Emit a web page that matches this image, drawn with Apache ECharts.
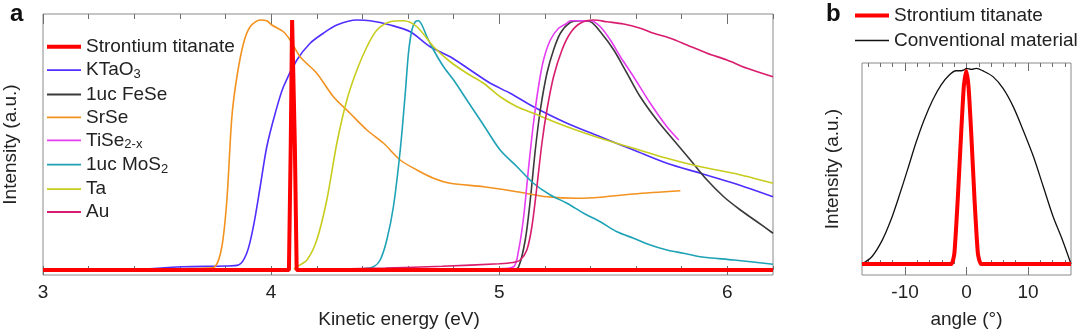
<!DOCTYPE html>
<html>
<head>
<meta charset="utf-8">
<script src="https://cdn.jsdelivr.net/npm/echarts@6/dist/echarts.min.js"></script>
<style>html,body{margin:0;padding:0;background:#fff}#c{width:1080px;height:332px}</style>
</head>
<body>
<div id="c"></div>
<script>
// ---------- DATA (panel a: [kinetic energy eV, normalized intensity]) ----------
const seriesNamesA = ['Strontium titanate','KTaO3','1uc FeSe','SrSe','TiSe2-x','1uc MoS2','Ta','Au'];
const legendLabelsA = {
  'Strontium titanate': '{n|Strontium titanate}',
  'KTaO3': '{n|KTaO}{s|3}',
  '1uc FeSe': '{n|1uc FeSe}',
  'SrSe': '{n|SrSe}',
  'TiSe2-x': '{n|TiSe}{s|2-x}',
  '1uc MoS2': '{n|1uc MoS}{s|2}',
  'Ta': '{n|Ta}',
  'Au': '{n|Au}'
};
const xTickMajorA = [3,4,5,6];
const xTickMinorA = [3.2,3.4,3.6,3.8,4.2,4.4,4.6,4.8,5.2,5.4,5.6,5.8,6.2];

const stoA = [[3.0,0],[4.078,0],[4.086,0.5],[4.092,1.0],[4.098,1.0],[4.104,0.5],[4.112,0],[6.2,0]];
const ktao3 = [[3.45,0.004],[3.615,0.013],[3.80,0.016],[3.857,0.02],[3.893,0.067],[3.922,0.173],[3.952,0.333],[3.981,0.493],[4.018,0.627],[4.054,0.733],[4.113,0.84],[4.171,0.907],[4.229,0.947],[4.288,0.98],[4.376,1.0],[4.434,0.997],[4.522,0.98],[4.61,0.953],[4.697,0.893],[4.785,0.853],[4.873,0.8],[4.961,0.747],[5.048,0.707],[5.15,0.653],[5.297,0.587],[5.443,0.533],[5.589,0.48],[5.735,0.427],[5.882,0.387],[6.028,0.347],[6.2,0.293]];
const fese = [[5.0,0],[5.06,0.0],[5.085,0.013],[5.114,0.12],[5.136,0.28],[5.158,0.48],[5.18,0.64],[5.209,0.787],[5.238,0.88],[5.268,0.947],[5.311,0.99],[5.355,0.997],[5.4,0.993],[5.443,0.953],[5.502,0.88],[5.56,0.787],[5.618,0.693],[5.691,0.6],[5.764,0.52],[5.838,0.44],[5.911,0.36],[5.984,0.293],[6.057,0.24],[6.13,0.193],[6.2,0.147]];
const srse = [[3.40,0.003],[3.60,0.005],[3.72,0.008],[3.754,0.013],[3.784,0.093],[3.806,0.28],[3.828,0.613],[3.85,0.773],[3.879,0.907],[3.908,0.973],[3.952,1.0],[3.981,0.997],[4.003,0.98],[4.054,0.953],[4.083,0.92],[4.127,0.853],[4.2,0.787],[4.273,0.693],[4.346,0.627],[4.42,0.56],[4.493,0.507],[4.566,0.44],[4.639,0.40],[4.712,0.367],[4.785,0.347],[4.931,0.333],[5.078,0.313],[5.209,0.293],[5.341,0.287],[5.443,0.291],[5.589,0.304],[5.794,0.317]];
const tise = [[5.0,0.005],[5.063,0.013],[5.085,0.08],[5.107,0.213],[5.129,0.413],[5.15,0.587],[5.172,0.733],[5.194,0.84],[5.224,0.92],[5.26,0.967],[5.297,0.987],[5.311,0.997],[5.341,0.997],[5.4,0.997],[5.443,0.973],[5.487,0.92],[5.531,0.853],[5.589,0.773],[5.662,0.667],[5.735,0.573],[5.787,0.52]];
const mos2 = [[4.40,0.005],[4.449,0.013],[4.478,0.04],[4.507,0.12],[4.536,0.253],[4.566,0.48],[4.588,0.707],[4.602,0.867],[4.617,0.96],[4.632,0.993],[4.646,0.997],[4.661,0.98],[4.683,0.933],[4.712,0.88],[4.756,0.813],[4.8,0.76],[4.858,0.68],[4.931,0.58],[5.004,0.48],[5.078,0.413],[5.15,0.347],[5.224,0.3],[5.297,0.267],[5.37,0.227],[5.443,0.193],[5.516,0.153],[5.589,0.127],[5.662,0.1],[5.735,0.08],[5.808,0.067],[5.882,0.053],[6.028,0.04],[6.2,0.023]];
const ta = [[4.10,0.003],[4.113,0.013],[4.157,0.04],[4.2,0.12],[4.244,0.28],[4.288,0.507],[4.332,0.68],[4.376,0.8],[4.42,0.893],[4.464,0.96],[4.522,0.993],[4.58,0.997],[4.639,0.973],[4.712,0.893],[4.785,0.833],[4.858,0.787],[4.931,0.747],[5.004,0.693],[5.078,0.653],[5.15,0.627],[5.297,0.573],[5.443,0.527],[5.589,0.487],[5.735,0.447],[5.882,0.413],[6.028,0.387],[6.2,0.347]];
const au = [[4.25,0.003],[4.5,0.008],[4.75,0.015],[5.0,0.025],[5.06,0.03],[5.092,0.04],[5.121,0.08],[5.143,0.173],[5.165,0.333],[5.187,0.507],[5.209,0.64],[5.238,0.773],[5.275,0.88],[5.311,0.947],[5.355,0.987],[5.414,1.0],[5.472,0.993],[5.545,0.984],[5.618,0.967],[5.677,0.947],[5.75,0.927],[5.823,0.9],[5.911,0.867],[5.998,0.84],[6.086,0.807],[6.2,0.773]];

// ---------- DATA (panel b: [angle deg, normalized intensity]) ----------
const seriesNamesB = ['Strontium titanate','Conventional material'];
const xTickMajorB = [-10,0,10];
const xTickMinorB = [-16,-14,-12,-8,-6,-4,-2,2,4,6,8,12,14,16];
const stoB = [[-17,0],[-2.5,0],[-1.97,0.055],[-1.43,0.327],[-0.87,0.667],[-0.44,0.905],[-0.05,0.985],[0.33,0.905],[0.77,0.667],[1.31,0.327],[1.85,0.055],[2.4,0],[17,0]];
const conventional = [[-17,0],[-15.4,0.037],[-13.7,0.122],[-12.3,0.224],[-11,0.343],[-9.6,0.48],[-8.25,0.616],[-6.9,0.735],[-5.5,0.837],[-4.15,0.913],[-2.8,0.964],[-1.7,0.986],[-0.9,0.986],[-0.4,0.99],[0,0.998],[0.8,0.993],[1.6,0.998],[2.7,0.985],[4.3,0.956],[5.95,0.896],[7.6,0.803],[9.2,0.684],[10.9,0.547],[12.5,0.394],[14.1,0.241],[15.5,0.131],[17,0.0]];

// ---------- STYLE ----------
const FONT = 'Liberation Sans, Arial, sans-serif';
const TXT = '#222';
const AX = '#6e6e6e';
const colors = {
  'Strontium titanate':'#ff0000','KTaO3':'#4f2eff','1uc FeSe':'#3a3a3a','SrSe':'#f3921f',
  'TiSe2-x':'#e63cf2','1uc MoS2':'#1ea2b6','Ta':'#c8cc1e','Au':'#d81c6e','Conventional material':'#111111'
};

function tickAxis(grid, pos, min, max, ticks, len, labels, extra) {
  return Object.assign({
    type:'value', gridIndex:grid, position:pos, min:min, max:max,
    axisLine:{show:false},
    axisTick:{show:true, inside:true, length:len, customValues:ticks, lineStyle:{color:AX, width:1}},
    axisLabel:labels ? {show:true, customValues:labels, color:TXT, fontSize:19, fontFamily:FONT, margin:8} : {show:false},
    splitLine:{show:false}
  }, extra || {});
}

const chart = echarts.init(document.getElementById('c'), null, {renderer:'canvas'});

const curvesA = {'KTaO3':ktao3,'1uc FeSe':fese,'SrSe':srse,'TiSe2-x':tise,'1uc MoS2':mos2,'Ta':ta,'Au':au};
const series = [];
Object.keys(curvesA).forEach(function(k){
  series.push({name:k, type:'line', xAxisIndex:0, yAxisIndex:0, data:curvesA[k], showSymbol:false, symbol:'none',
    smooth:0.3, lineStyle:{color:colors[k], width:1.6}, itemStyle:{color:colors[k]}, z:2});
});
series.push({name:'Strontium titanate', type:'line', xAxisIndex:0, yAxisIndex:0, data:stoA, symbol:'none',
  lineStyle:{color:colors['Strontium titanate'], width:4}, itemStyle:{color:colors['Strontium titanate']}, z:5});
series.push({name:'Conventional material', type:'line', xAxisIndex:4, yAxisIndex:1, data:conventional, symbol:'none',
  smooth:0.3, lineStyle:{color:colors['Conventional material'], width:1.3}, itemStyle:{color:colors['Conventional material']}, z:2});
series.push({name:'Strontium titanate', type:'line', xAxisIndex:4, yAxisIndex:1, data:stoB, symbol:'none',
  smooth:0.15, lineStyle:{color:colors['Strontium titanate'], width:4}, itemStyle:{color:colors['Strontium titanate']}, z:5});

const rich = {
  n:{fontSize:19, fontFamily:FONT, color:TXT, lineHeight:22},
  s:{fontSize:13, fontFamily:FONT, color:TXT, lineHeight:8, verticalAlign:'bottom'}
};
const ROW = 23.3;
function leg(names, left, top, thick, fmt) {
  return {data:names, orient:'vertical', left:left, top:top, padding:0, itemGap:ROW-19.4, itemWidth:34, itemHeight:thick,
    icon:'rect', formatter:fmt, textStyle:{rich:rich, color:TXT, fontSize:19}, selectedMode:false};
}
const fmtA = function(n){return legendLabelsA[n];};
const fmtB = function(n){return '{n|'+n+'}';};

chart.setOption({
  animation:false,
  backgroundColor:'#fff',
  textStyle:{fontFamily:FONT},
  grid:[
    {left:43, right:307, top:14, bottom:57, show:true, borderColor:'#8a8a8a', borderWidth:1, backgroundColor:'transparent', outerBoundsMode:'none', containLabel:false},
    {left:862, right:9, top:63, bottom:57, show:true, borderColor:'#8a8a8a', borderWidth:1, backgroundColor:'transparent', outerBoundsMode:'none', containLabel:false}
  ],
  legend:[
    leg(seriesNamesA.slice(0,1), 47, 37.3, 4, fmtA),
    leg(seriesNamesA.slice(1), 47, 37.3+ROW, 1.8, fmtA),
    leg(seriesNamesB.slice(0,1), 855, 6, 4, fmtB),
    leg(seriesNamesB.slice(1), 855, 31, 1.5, fmtB)
  ],
  xAxis:[
    tickAxis(0,'bottom',3,6.2,xTickMinorA,4,null),
    tickAxis(0,'bottom',3,6.2,xTickMajorA,9,xTickMajorA,{name:'Kinetic energy (eV)', nameLocation:'middle', nameGap:35,
      nameTextStyle:{color:TXT, fontSize:19, fontFamily:FONT, padding:[0,18,0,0]}}),
    tickAxis(0,'top',3,6.2,xTickMinorA,5,null),
    tickAxis(0,'top',3,6.2,xTickMajorA,10,null),
    tickAxis(1,'bottom',-17,17,xTickMinorB,4,null),
    tickAxis(1,'bottom',-17,17,xTickMajorB,8,xTickMajorB,{name:'angle (°)', nameLocation:'middle', nameGap:35,
      nameTextStyle:{color:TXT, fontSize:19, fontFamily:FONT}}),
    tickAxis(1,'top',-17,17,xTickMinorB,4,null),
    tickAxis(1,'top',-17,17,xTickMajorB,8,null)
  ],
  yAxis:[
    {type:'value', gridIndex:0, min:-0.02, max:1.024, axisLine:{show:false}, axisTick:{show:false}, axisLabel:{show:false}, splitLine:{show:false},
     name:'Intensity (a.u.)', nameLocation:'middle', nameGap:23, nameTextStyle:{color:TXT, fontSize:19, fontFamily:FONT}},
    {type:'value', gridIndex:1, min:-0.0561, max:1.0255, axisLine:{show:false}, axisTick:{show:false}, axisLabel:{show:false}, splitLine:{show:false},
     name:'Intensity (a.u.)', nameLocation:'middle', nameGap:20, nameTextStyle:{color:TXT, fontSize:19, fontFamily:FONT}}
  ],
  graphic:[
    {type:'text', left:10, top:2, style:{text:'a', font:'bold 24px '+FONT, fill:'#111'}},
    {type:'text', left:826, top:2, style:{text:'b', font:'bold 24px '+FONT, fill:'#111'}}
  ],
  series:series
});
</script>
</body>
</html>
